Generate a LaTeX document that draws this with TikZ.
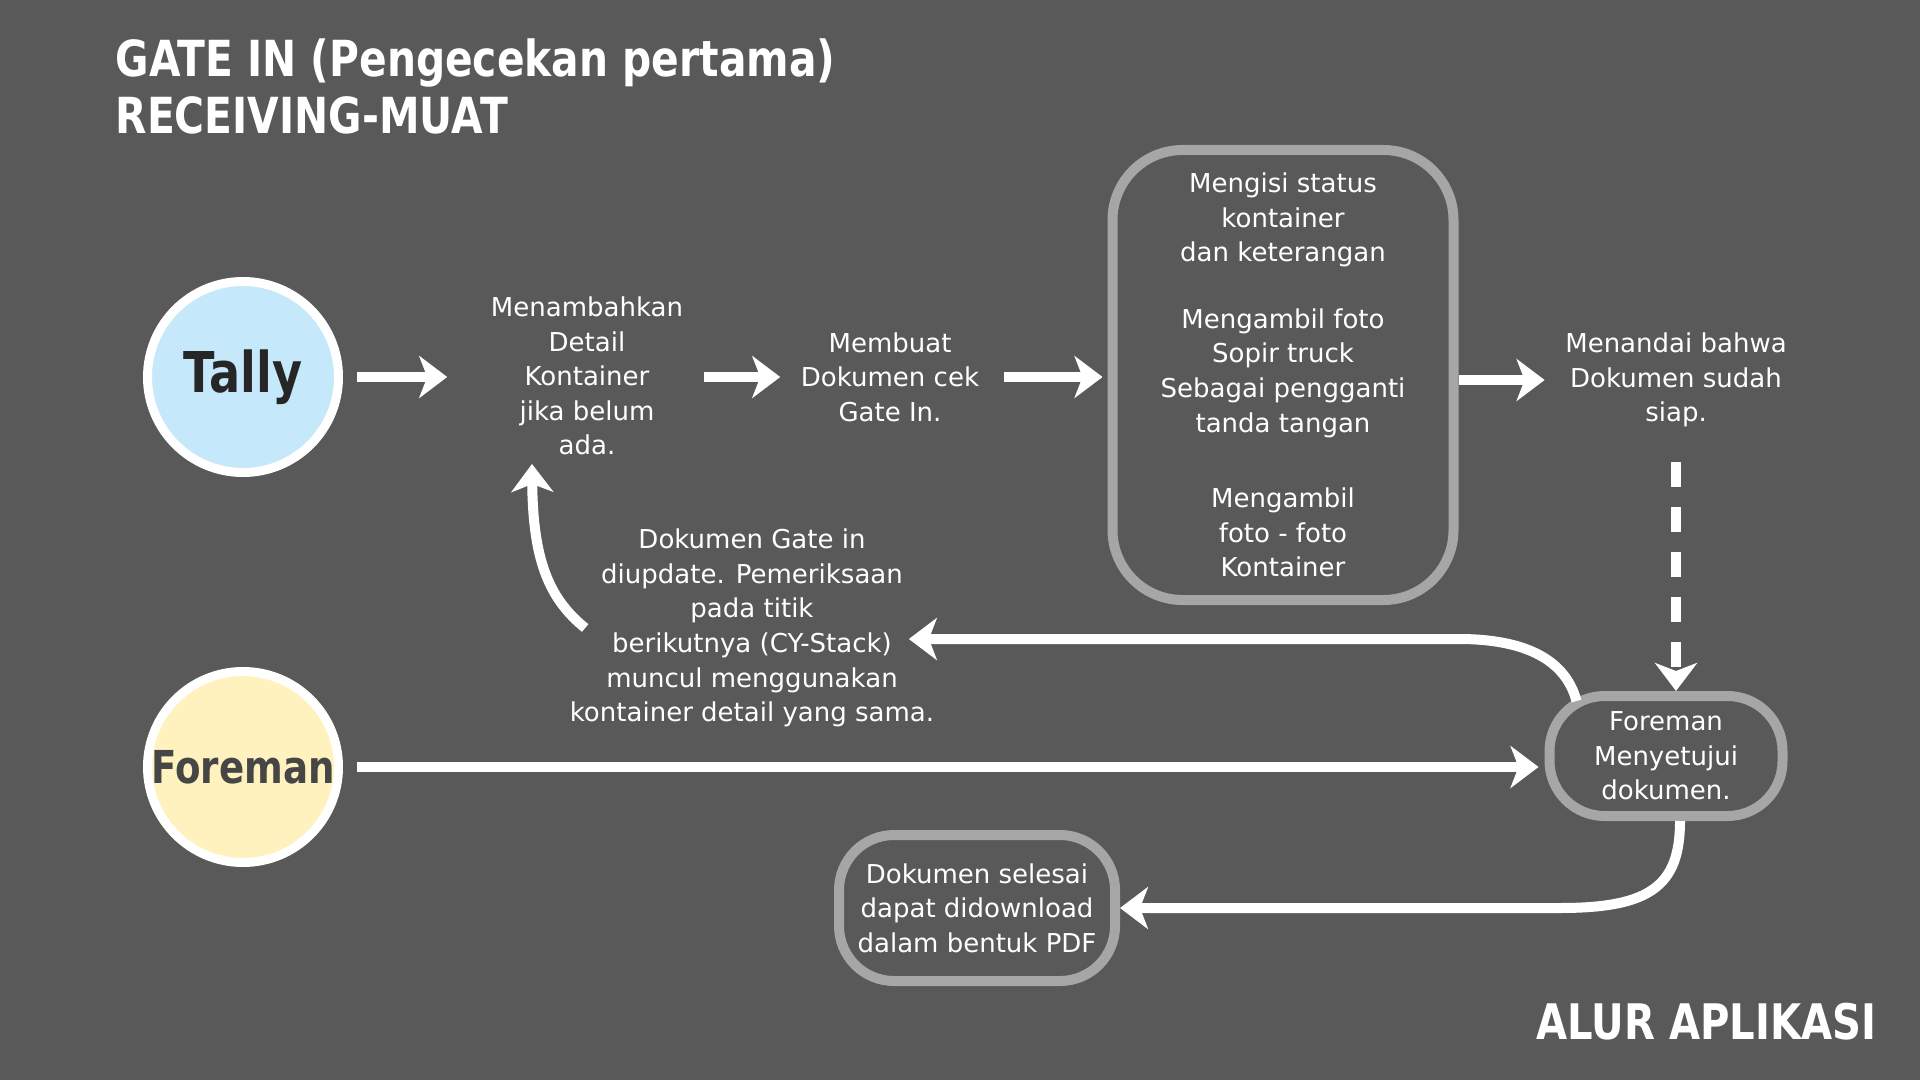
\documentclass[tikz,border=0pt]{standalone}
\usepackage{fontspec}
\setmainfont{DejaVu Sans}
\newfontfamily\headfont[FakeStretch=0.82]{DejaVu Sans}
\usepackage{xcolor}
\usepackage{tikz}
\usetikzlibrary{arrows.meta, positioning, calc}
\definecolor{bg}{RGB}{89,89,89}
\definecolor{rim}{RGB}{166,166,166}
\definecolor{tallyblue}{RGB}{197,232,251}
\definecolor{foreyellow}{RGB}{255,242,191}
\definecolor{darktext}{RGB}{38,38,38}
\definecolor{greytext}{RGB}{70,70,70}
\tikzstyle{actor} = [circle, draw=white, line width=0.9mm, minimum size=1.91cm, inner sep=0pt]
\tikzstyle{module} = [rectangle, draw=rim, line width=1mm, align=center, text=white, inner sep=1mm, font=\fontsize{7.4}{9.85}\selectfont]
\tikzstyle{desc} = [align=center, text=white, inner sep=2mm, font=\fontsize{7.4}{9.85}\selectfont]
\tikzstyle{arrow} = [line width=1mm, color=white, -{Stealth[length=2.8mm, width=4.2mm, inset=0.8mm]}]
\tikzstyle{dasharrow} = [arrow, dash pattern=on 2.5mm off 2mm]

\begin{document}
\begin{tikzpicture}[x=1cm, y=-1cm, node distance=1cm]

\useasboundingbox (0,0) rectangle (19.2,10.8);
\fill[bg] (0,0) rectangle (19.2,10.8);

\node[anchor=north west, align=left, inner sep=0pt, text=white, font=\headfont\bfseries\fontsize{14.15}{16.2}\selectfont] (title) at (1.15,0.38) {GATE IN (Pengecekan pertama)\\RECEIVING-MUAT};
\node[anchor=base east, inner sep=0pt, text=white, font=\headfont\bfseries\fontsize{13.94}{16}\selectfont] (brand) at (18.77,10.39) {ALUR APLIKASI};

\node[actor, fill=tallyblue, text=darktext, font=\headfont\bfseries\fontsize{16}{19}\selectfont] (tally) at (2.43,3.77) {Tally};
\node[actor, fill=foreyellow, text=greytext, font=\headfont\bfseries\fontsize{12.9}{15}\selectfont, below=1.9cm of tally] (foreman) {Foreman};

\node[desc] (add) at (5.87,3.76) {Menambahkan\\Detail\\Kontainer\\jika belum\\ada.};
\node[desc] (make) at (8.90,3.77) {Membuat\\Dokumen cek\\Gate In.};
\node[module, rounded corners=7mm, minimum width=3.41cm, minimum height=4.5cm] (stat) at (12.83,3.75) {Mengisi status\\kontainer\\dan keterangan\\[3.2mm]Mengambil foto\\Sopir truck\\Sebagai pengganti\\tanda tangan\\[4.1mm]Mengambil\\foto - foto\\Kontainer};
\node[desc] (mark) at (16.76,3.80) {Menandai bahwa\\Dokumen sudah\\siap.};
\node[module, rounded corners=5.5mm, minimum width=2.33cm, minimum height=1.2cm] (appr) at (16.66,7.56) {Foreman\\Menyetujui\\dokumen.};
\node[desc] (upd) at (7.52,6.28) {Dokumen Gate in\\diupdate. Pemeriksaan\\pada titik\\berikutnya (CY-Stack)\\muncul menggunakan\\kontainer detail yang sama.};
\node[module, rounded corners=5.5mm, minimum width=2.76cm, minimum height=1.46cm] (done) at (9.77,9.08) {Dokumen selesai\\dapat didownload\\dalam bentuk PDF};

% main flow
\draw[arrow, shorten <=1.4mm, shorten >=2.3mm] (tally.east) -- (tally.east -| add.west);
\draw[arrow] (add.east |- make) -- (make.west);
\draw[arrow, shorten <=0.4mm, shorten >=0.5mm] (make.east) -- (make.east -| stat.west);
\draw[arrow] (stat.east |- mark) -- (mark.west);
\draw[dasharrow, shorten <=1.4mm] (mark.south) -- (mark.south |- appr.north);
\draw[arrow, shorten <=1.4mm, shorten >=0.6mm] (foreman.east) -- (foreman.east -| appr.west);

% feedback
\draw[arrow] ([xshift=3.2mm,yshift=-1mm]appr.north west) .. controls +(-0.12,-0.45) and +(0.6,0) .. ($(upd.east)+(5.04,0.11)$) -- ([xshift=-4.6mm,yshift=-1.1mm]upd.east);
\draw[arrow] ([xshift=3.6mm]upd.west) .. controls +(-0.37,-0.3) and +(0.01,0.95) .. ([xshift=-5.5mm,yshift=1.2mm]add.south);
\draw[arrow] ([xshift=1.4mm]appr.south) .. controls +(0,0.65) and +(0.9,0) .. ($(done.east)+(4.4,0)$) -- (done.east);

\end{tikzpicture}
\end{document}
